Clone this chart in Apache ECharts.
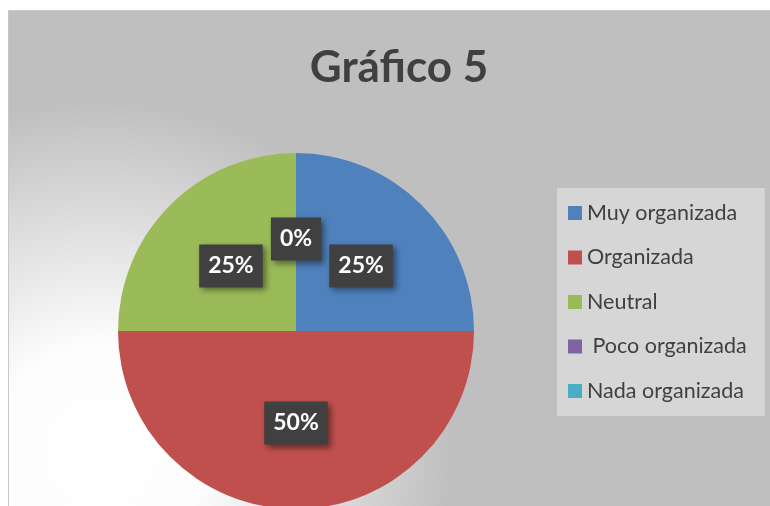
<!DOCTYPE html>
<html>
<head>
<meta charset="utf-8">
<script src="https://cdn.jsdelivr.net/npm/echarts@6/dist/echarts.min.js"></script>
<style>
  html, body { margin: 0; padding: 0; background: #fff; }
  #chart { width: 770px; height: 506px; }
</style>
</head>
<body>
<div id="chart"></div>
<script>
const categories = ['Muy organizada', 'Organizada', 'Neutral', ' Poco organizada', 'Nada organizada']
const values = [25, 50, 25, 0, 0]
const colors = ['#4f81bd', '#c0504d', '#9bbb59', '#8064a2', '#4bacc6']

const chart = echarts.init(document.getElementById('chart'))
const font = 'Lato, "Open Sans", sans-serif'

chart.setOption({
  animation: false,
  color: colors,
  graphic: [{
    type: 'rect', z: -10, silent: true,
    shape: { x: 8.5, y: 10.5, width: 770, height: 500 },
    style: {
      fill: new echarts.graphic.RadialGradient(0.12, 0.88, 0.7, [
        { offset: 0, color: '#ffffff' },
        { offset: 0.3, color: '#fdfdfd' },
        { offset: 1, color: '#bfbfbf' }
      ]),
      stroke: '#c8c8c8', lineWidth: 1
    }
  }],
  title: {
    text: 'Gráfico 5', left: 394, top: 41, textAlign: 'center',
    textStyle: { fontFamily: font, fontSize: 44, fontWeight: 'bold', color: '#404040' }
  },
  legend: {
    orient: 'vertical', left: 557, top: 188,
    backgroundColor: '#d6d6d6',
    padding: [14, 18, 14, 11],
    itemWidth: 14, itemHeight: 14, itemGap: 22.5, icon: 'rect',
    textStyle: { fontFamily: font, fontSize: 21.5, color: '#404040' },
    data: categories
  },
  series: [{
    type: 'pie',
    center: [296, 331], radius: 178,
    startAngle: 90, clockwise: true,
    avoidLabelOverlap: false,
    label: {
      show: true, position: 'inside',
      formatter: p => p.percent.toFixed(0) + '%',
      fontFamily: font, fontSize: 23, fontWeight: 'bold', color: '#fff',
      backgroundColor: '#404040', padding: [10, 9, 10, 9],
      shadowColor: 'rgba(0,0,0,0.45)', shadowBlur: 6, shadowOffsetX: 3, shadowOffsetY: 3
    },
    labelLine: { show: false },
    emphasis: { disabled: true },
    data: categories.map((c, i) => ({ name: c, value: values[i] }))
  }]
})
</script>
</body>
</html>
